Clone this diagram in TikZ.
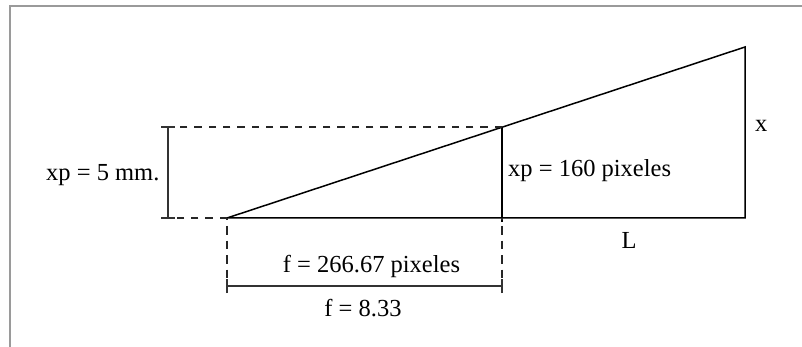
\documentclass[tikz,border=0pt]{standalone}
\usepackage{fontspec}
\setmainfont{Liberation Serif}
\definecolor{framegray}{HTML}{9A9A9A}
\tikzset{
  solidline/.style={line width=1.5pt, black},
  dimline/.style={line width=2pt, black!80},
  dashline/.style={line width=1.6pt, black!85, dash pattern=on 7.3pt off 7pt},
  vdashline/.style={line width=1.6pt, black!85, dash pattern=on 8.5pt off 6pt, dash phase=-8pt}
}
\tikzset{lbl/.style={inner sep=0pt, font=\fontsize{24.5}{28}\selectfont}}
\begin{document}
\begin{tikzpicture}[x=1pt,y=-1pt]
\useasboundingbox (0,0) rectangle (802,347);
\fill[white] (0,0) rectangle (802,347);
% frame
\draw[framegray, line width=2pt] (10,347) -- (10,6) -- (802,6);
% points
\coordinate (A) at (227,218);
\coordinate (B) at (502,218);
\coordinate (C) at (745,218);
\coordinate (P) at (502,127);
\coordinate (T) at (745,47);
\coordinate (DL1) at (168,127);
\coordinate (DL2) at (168,218);
\coordinate (DB1) at (227,286);
\coordinate (DB2) at (502,286);
% main triangle
\draw[solidline] (A) -- (C) -- (T) -- cycle;
\draw[solidline] (P) -- (B) -- ++(0,4);
% dashed extension lines
\draw[dashline] (P) -- (DL1);
\draw[dashline] (A) -- (DL2);
\draw[vdashline] (A) -- ++(0,62);
\draw[vdashline] (B) -- ++(0,62);
% left dimension
\draw[dimline] (DL1) -- (DL2);
\draw[dimline] ([xshift=-7pt]DL1) -- ([xshift=7pt]DL1);
\draw[dimline] ([xshift=-7pt]DL2) -- ([xshift=7pt]DL2);
% bottom dimension
\draw[dimline] (DB1) -- (DB2);
\draw[dimline] ([yshift=-7pt]DB1) -- ([yshift=7pt]DB1);
\draw[dimline] ([yshift=-7pt]DB2) -- ([yshift=7pt]DB2);
% labels
\node[lbl, anchor=base west] (xp5) at (46,180.5) {xp = 5 mm.};
\node[lbl, anchor=base west] (xp160) at (508,176.5) {xp = 160 pixeles};
\node[lbl, anchor=base west] (xl) at (755,132) {x};
\node[lbl, anchor=base] (Ll) at (629,248) {L};
\node[lbl, anchor=base] (f1) at (371.5,272.5) {f = 266.67 pixeles};
\node[lbl, anchor=base] (f2) at (363,316.5) {f = 8.33};
\end{tikzpicture}
\end{document}
